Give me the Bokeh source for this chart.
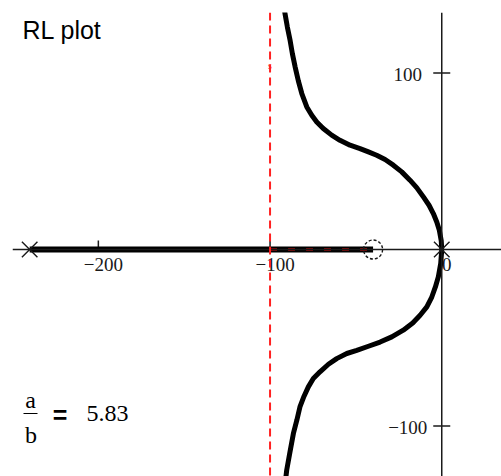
from bokeh.plotting import figure
from bokeh.models import Span
from bokeh.core.properties import value
from bokeh.embed import file_html
from bokeh.resources import INLINE

# ---------------- data ----------------
title_text = "RL plot"
ratio_text = "5.83"

poles_x = [-240, 0]
poles_y = [0, 0]
zeros_x = [-40]
zeros_y = [0]
asym_center = -100

# real-axis locus: from pole -240 to zero -40
real_locus_x = [-240, -40]
real_locus_y = [0, 0]
# red dashed marker on real axis (centroid to zero)
centroid_x = [-100, -40]
centroid_y = [0, 0]

# upper complex branch
upper_x = [0, -0.3, -1.4, -2.9, -4.9, -7.4, -10.7, -14.6, -18.5, -23.3, -28.2,
           -33.0, -37.9, -42.7, -47.6, -53.4, -59.3, -64.1, -69.0, -72.8, -75.7,
           -78.6, -81.5, -83.5, -85.4, -87.0, -88.3, -89.9, -91.3, -92.0]
upper_y = [0, 5.0, 10.9, 15.6, 20.4, 25.1, 29.8, 35.1, 39.3, 44.0, 47.8,
           51.0, 53.4, 55.3, 57.2, 59.1, 61.9, 64.8, 68.6, 72.3, 76.1,
           80.8, 88.4, 95.5, 103.5, 111.0, 118.4, 126.0, 133.7, 138.0]
# lower complex branch
lower_x = [0, -0.6, -2.0, -3.7, -5.8, -8.7, -12.6, -16.9, -22.4, -29.1, -35.9,
           -42.7, -49.5, -55.3, -61.2, -66.0, -70.9, -74.8, -77.7, -80.2, -82.6,
           -84.4, -86.4, -88.4, -90.3, -91.5]
lower_y = [0, -7.9, -15.5, -21.2, -26.9, -32.5, -37.2, -41.6, -45.7, -49.5, -52.4,
           -54.8, -57.1, -58.9, -61.8, -65.0, -69.3, -73.1, -77.8, -83.1, -89.2,
           -96.7, -104.2, -114.7, -125.0, -135.0]

x_ticks = [-200, -100, 0]
x_tick_labels = ["\u2212200", "\u2212100", "0"]
y_ticks = [100, -100]
y_tick_labels = ["100", "\u2212100"]

# ---------------- figure ----------------
W, H = 501, 476
BL, BT = 12, 12
FW, FH = W - BL, H - BT
PX_PER_X = 1.717
PX_PER_Y = 1.765
X0 = -250.0
X1 = X0 + FW / PX_PER_X
Y1 = 134.3
Y0 = Y1 - FH / PX_PER_Y
TEXT_DY = -8   # vertical correction for text placement (px)

def px2x(px):
    return X0 + (px - BL) / PX_PER_X

def py2y(py):
    return Y1 - (py - BT) / PX_PER_Y

p = figure(width=W, height=H, x_range=(X0, X1), y_range=(Y0, Y1),
           x_axis_type=None, y_axis_type=None, toolbar_location=None,
           output_backend="svg", min_border_left=BL, min_border_top=BT,
           min_border_right=0, min_border_bottom=0)
p.outline_line_color = None
p.background_fill_color = "white"
p.border_fill_color = "white"

AX = "#1a1a1a"
# axes lines
p.add_layout(Span(location=0, dimension="width", line_color=AX, line_width=1.5))
p.add_layout(Span(location=0, dimension="height", line_color=AX, line_width=1.5))

# ticks
p.segment(x0=x_ticks, y0=[0] * len(x_ticks), x1=x_ticks,
          y1=[9 / PX_PER_Y] * len(x_ticks), line_color=AX, line_width=1.5)
p.segment(x0=[-8.5 / PX_PER_X] * len(y_ticks), y0=y_ticks,
          x1=[8.5 / PX_PER_X] * len(y_ticks), y1=y_ticks,
          line_color=AX, line_width=1.5)

# tick labels
p.text(x=x_ticks, y=[0] * len(x_ticks), text=x_tick_labels,
       text_font=value("Liberation Serif"), text_font_size="19px",
       text_color=AX, text_align="center", text_baseline="alphabetic",
       x_offset=5, y_offset=23 + TEXT_DY)
p.text(x=[0] * len(y_ticks), y=y_ticks, text=y_tick_labels,
       text_font=value("Liberation Serif"), text_font_size="19px",
       text_color=AX, text_align="center", text_baseline="alphabetic",
       x_offset=-34, y_offset=9 + TEXT_DY)

# locus
p.line(real_locus_x, real_locus_y, line_color="black", line_width=6)
p.line(upper_x, upper_y, line_color="black", line_width=5, line_join="round")
p.line(lower_x, lower_y, line_color="black", line_width=5, line_join="round")

# asymptote and centroid marker
p.add_layout(Span(location=asym_center, dimension="height", line_color="#ff2020",
                  line_width=2, line_dash="8 5"))
p.line(centroid_x, centroid_y, line_color="#ff1010", line_width=2, line_dash="7 11")
p.text(x=[asym_center], y=[py2y(73 + TEXT_DY)], text=["s"],
       text_font=value("Liberation Serif"), text_font_size="10px",
       text_color="#ff2020", text_align="center", text_baseline="alphabetic")

# poles & zeros
p.scatter(poles_x, poles_y, marker="x", size=22, line_color=AX, line_width=1.4)
p.scatter(zeros_x, zeros_y, marker="circle", size=19, fill_color=None,
          line_color=AX, line_width=1.4, line_dash="3 2")

# texts
p.text(x=[px2x(22)], y=[py2y(37 + TEXT_DY)], text=[title_text],
       text_font=value("Liberation Sans"), text_font_size="25px", text_color="black",
       text_align="left", text_baseline="alphabetic")
p.text(x=[px2x(30)], y=[py2y(407 + TEXT_DY)], text=["a"],
       text_font=value("Liberation Serif"), text_font_size="24px", text_color="black",
       text_align="center", text_baseline="alphabetic")
p.segment(x0=[px2x(23)], y0=[py2y(413)], x1=[px2x(37)], y1=[py2y(413)],
          line_color="black", line_width=1.2)
p.text(x=[px2x(30.5)], y=[py2y(442 + TEXT_DY)], text=["b"],
       text_font=value("Liberation Serif"), text_font_size="24px", text_color="black",
       text_align="center", text_baseline="alphabetic")
p.text(x=[px2x(59.5)], y=[py2y(422 + TEXT_DY)], text=["="],
       text_font=value("Liberation Sans"), text_font_size="25px",
       text_font_style="bold", text_color="black",
       text_align="center", text_baseline="alphabetic")
p.text(x=[px2x(86)], y=[py2y(420.5 + TEXT_DY)], text=[ratio_text],
       text_font=value("Liberation Serif"), text_font_size="24px", text_color="black",
       text_align="left", text_baseline="alphabetic")

open("out.html", "w").write(file_html(p, INLINE))
